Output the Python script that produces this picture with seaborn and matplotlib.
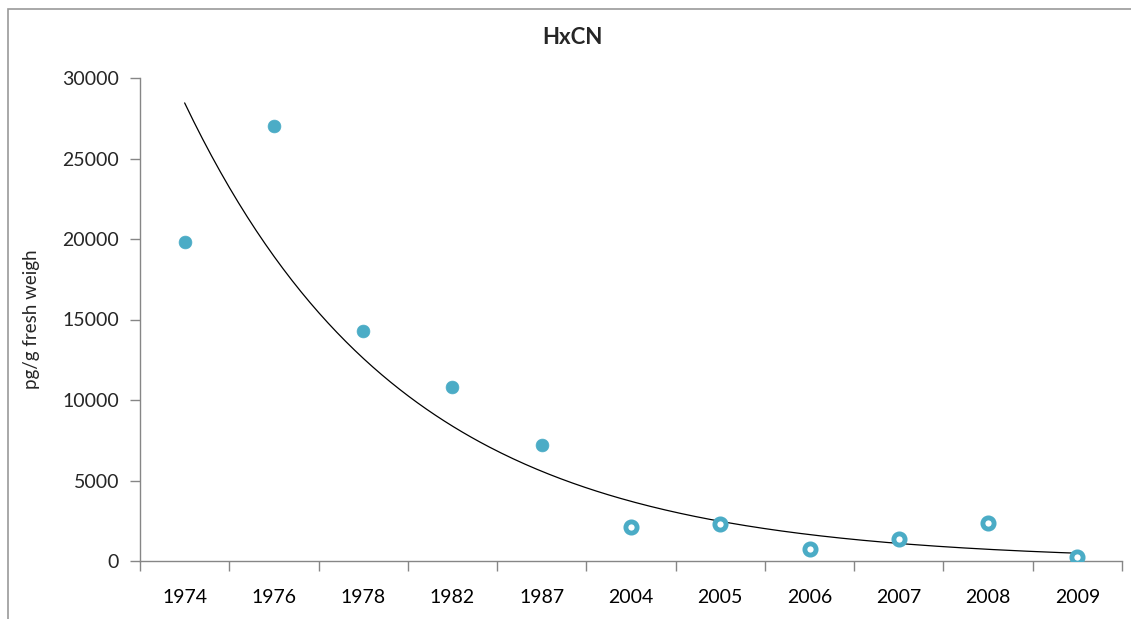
import numpy as np
import pandas as pd
import matplotlib
matplotlib.use("Agg")
import matplotlib.pyplot as plt
from matplotlib.patches import Rectangle
import seaborn as sns

# HxCN concentrations (pg/g fresh weight) per sampling year
years = ["1974", "1976", "1978", "1982", "1987", "2004", "2005", "2006", "2007", "2008", "2009"]
concentration = [19800, 27000, 14300, 10800, 7200, 2110, 2280, 745, 1350, 2340, 270]
# early archived samples vs. recent samples
period = ["archive"] * 5 + ["recent"] * 6

y_ticks = [0, 5000, 10000, 15000, 20000, 25000, 30000]

sns.set_theme(style="white")
plt.rcParams["font.family"] = ["Lato", "DejaVu Sans"]

W, H, DPI = 1131, 619, 100
fig = plt.figure(figsize=(W / DPI, H / DPI), dpi=DPI)
ax = fig.add_axes([140 / W, 1 - 561 / H, (1122 - 140) / W, (561 - 78) / H])

df = pd.DataFrame({"year": years, "value": concentration, "period": period})
df["pos"] = np.arange(len(years))

blue = "#4BACC6"
ax_col = "#868686"

# filled markers for the archived samples
sns.scatterplot(data=df[df.period == "archive"], x="pos", y="value", ax=ax,
                s=85, color=blue, edgecolor=blue, linewidth=0.5, zorder=3, legend=False)
# ring markers for the recent samples
sns.scatterplot(data=df[df.period == "recent"], x="pos", y="value", ax=ax,
                s=65, facecolor="white", edgecolor=blue, linewidth=3.5, zorder=3, legend=False)

# exponential trend fitted on category index (1..n)
idx = df["pos"].to_numpy() + 1
b, a = np.polyfit(idx, np.log(df["value"].to_numpy()), 1)
xs = np.linspace(1, len(years), 300)
trend = pd.DataFrame({"pos": xs - 1, "value": np.exp(a + b * xs)})
sns.lineplot(data=trend, x="pos", y="value", ax=ax, color="black", linewidth=0.9, zorder=2)

ax.set_xlim(-0.5, len(years) - 0.5)
ax.set_ylim(0, 30000)
ax.set_yticks(y_ticks)
ax.set_yticklabels([str(t) for t in y_ticks])

# category boundaries carry the tick marks, labels sit at the centres
ax.set_xticks(np.arange(len(years) + 1) - 0.5)
ax.set_xticklabels([""] * (len(years) + 1))
ax.set_xticks(np.arange(len(years)), minor=True)
ax.set_xticklabels(years, minor=True)
ax.tick_params(axis="x", which="major", length=7, width=1, color=ax_col, direction="out", bottom=True)
ax.tick_params(axis="x", which="minor", length=0, pad=20, labelsize=14, colors="black", bottom=True)
ax.tick_params(axis="y", length=7, width=1, color=ax_col, direction="out", left=True,
               labelsize=14, pad=8)

for side in ("top", "right"):
    ax.spines[side].set_visible(False)
for side in ("left", "bottom"):
    ax.spines[side].set_color(ax_col)
    ax.spines[side].set_linewidth(1)

ax.set_xlabel("")
ax.set_ylabel("pg/g fresh weigh", fontsize=13.5, labelpad=16)

fig.text(572 / W, 1 - 38 / H, "HxCN", ha="center", va="center", fontsize=16, fontweight="bold")

# chart-area frame
fig.patches.append(Rectangle((8 / W, -0.1), 1.2, 1 - 9 / H + 0.1, transform=fig.transFigure,
                             fill=False, edgecolor="#9a9a9a", linewidth=1.2))

fig.savefig("out.png", dpi=DPI, facecolor="white")
